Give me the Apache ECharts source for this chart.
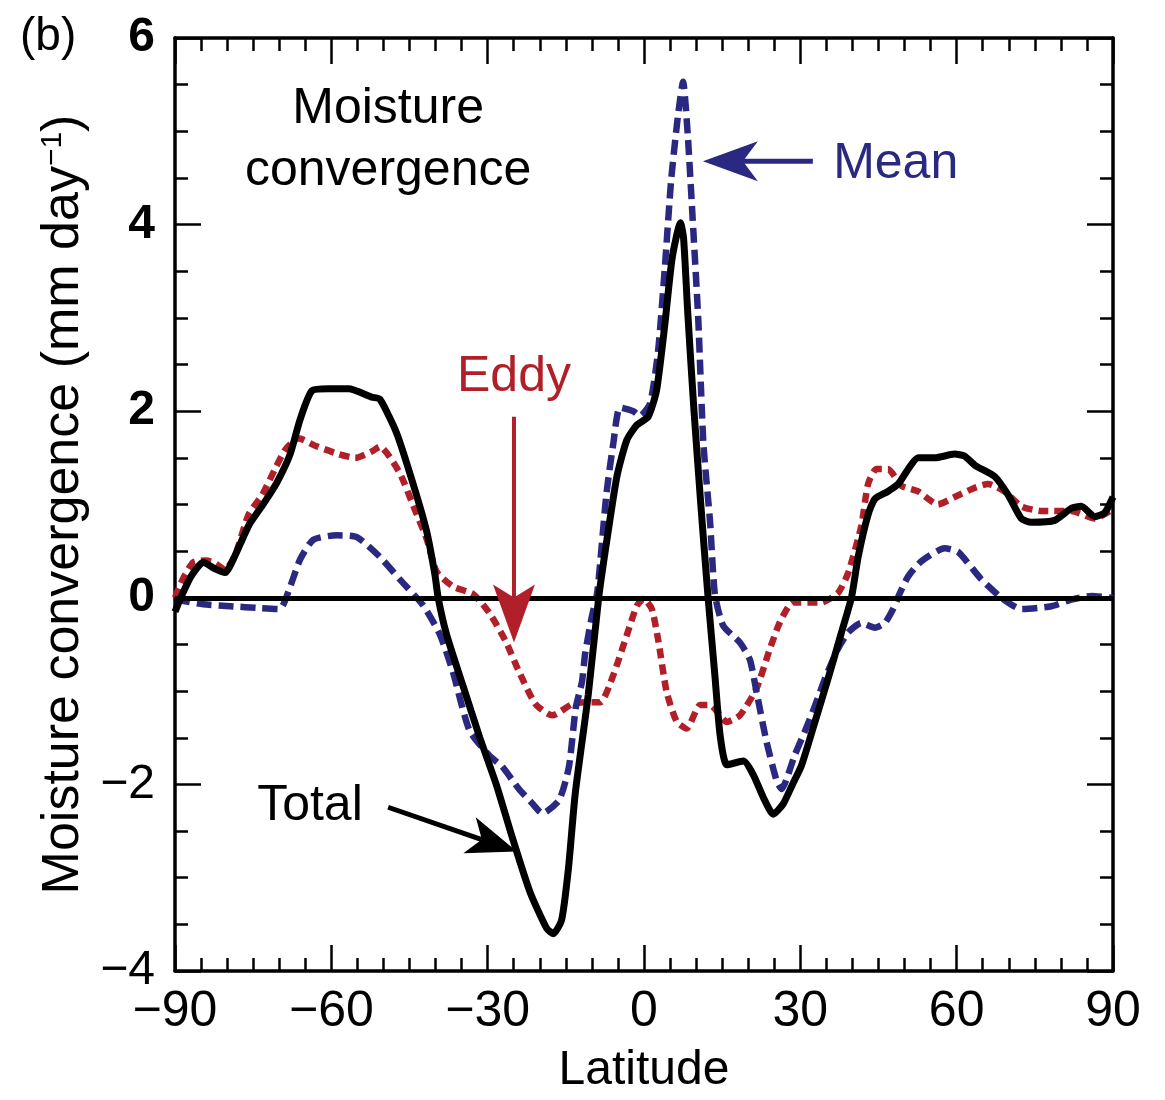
<!DOCTYPE html>
<html lang="en">
<head>
  <meta charset="UTF-8">
  <title>Moisture convergence</title>
  <style>
    html, body { margin: 0; padding: 0; background: #fff; }
  </style>
</head>
<body>
  <div id="main" style="width: 1165px;height:1100px;"></div>

  <script src="https://cdn.jsdelivr.net/npm/echarts@6/dist/echarts.min.js"></script>
  <script>
    // values: latitude (deg) and convergence (mm/day)
    const totalLat = [-90, -88.5, -86.8, -84.6, -82.3, -80.4, -78.5, -76.9, -75.6, -73, -70.5, -67.9, -66, -63.7, -60.5, -56.7, -52.2, -50.7, -47.5, -44.3, -41.7, -40.1, -39.5, -37.9, -34.7, -31.5, -28.3, -25.1, -21.9, -18.7, -17.4, -15.8, -14.5, -13.2, -10.7, -8.7, -7.2, -5.2, -3.3, -1.4, 0.8, 2.4, 4, 5.4, 7, 7.6, 8.4, 9.6, 10.9, 12.3, 13.6, 14.6, 15.9, 19.1, 21, 22.9, 24.8, 26.7, 28.5, 30.2, 32.8, 35.3, 37.9, 39.8, 41.1, 43, 44.3, 46.8, 48.8, 50.7, 52.6, 55.8, 59.6, 61.5, 63.5, 67.3, 69.9, 72.4, 74.3, 78.8, 82, 83.9, 86.5, 88.4, 90];
    const totalVal = [-0.15, 0.05, 0.24, 0.38, 0.31, 0.27, 0.45, 0.65, 0.8, 1.01, 1.23, 1.54, 1.91, 2.22, 2.24, 2.24, 2.15, 2.13, 1.77, 1.22, 0.71, 0.24, 0, -0.39, -0.95, -1.5, -2.01, -2.6, -3.15, -3.54, -3.6, -3.45, -2.9, -2.1, -1.04, 0, 0.59, 1.3, 1.69, 1.85, 1.94, 2.22, 2.93, 3.64, 4.02, 3.85, 3.05, 2.0, 1.0, 0, -0.83, -1.47, -1.79, -1.75, -1.9, -2.14, -2.32, -2.21, -2.0, -1.8, -1.33, -0.87, -0.37, 0, 0.44, 0.89, 1.06, 1.14, 1.22, 1.38, 1.5, 1.5, 1.54, 1.52, 1.42, 1.3, 1.1, 0.85, 0.81, 0.83, 0.96, 0.98, 0.87, 0.91, 1.08];

    const eddyLat = [-90, -88.5, -86.5, -84, -82.3, -80.4, -78.5, -75.9, -73.3, -70.8, -68.8, -66.3, -63.1, -58.6, -55.4, -52.2, -50.7, -46.9, -44.3, -41.7, -39.8, -36.6, -32.8, -29.7, -26.5, -24, -20.8, -17.6, -13.8, -11.3, -8.4, -5.9, -3.3, -1.4, -0.1, 1.5, 2.75, 4.35, 6.3, 8.2, 10.75, 12.7, 15.9, 18.4, 21.6, 24.2, 26.1, 28.6, 34, 37.2, 39.2, 41.7, 43, 44.6, 46.8, 49.4, 52.6, 56.4, 59.6, 63.5, 66, 69.2, 72.4, 76.3, 82, 86.5, 90];
    const eddyVal = [0, 0.2, 0.38, 0.4, 0.37, 0.3, 0.45, 0.89, 1.1, 1.38, 1.59, 1.71, 1.63, 1.54, 1.5, 1.57, 1.62, 1.34, 0.99, 0.63, 0.28, 0.12, 0.04, -0.16, -0.47, -0.79, -1.14, -1.26, -1.14, -1.12, -1.12, -0.83, -0.4, -0.09, -0.01, -0.12, -0.46, -1.01, -1.33, -1.4, -1.15, -1.15, -1.33, -1.26, -0.97, -0.54, -0.26, -0.05, -0.05, 0.05, 0.27, 0.77, 1.22, 1.38, 1.38, 1.2, 1.14, 1.0, 1.08, 1.18, 1.22, 1.14, 0.98, 0.93, 0.93, 0.85, 0.95];

    const meanLat = [-90, -88.9, -84.6, -79.4, -73.7, -69.9, -67.9, -66, -63.5, -59, -55.1, -50.7, -46.9, -42.4, -39.2, -36.7, -33.5, -29.7, -27.2, -24, -21.5, -19.5, -16.3, -14.4, -13.1, -11.9, -11.3, -10, -9, -8.4, -7.2, -5.9, -4.6, -2.05, -0.77, 1.15, 2.7, 4, 5.2, 6.5, 7.5, 8.4, 9.4, 10.4, 11.4, 12.67, 13.6, 15.2, 18.4, 20.3, 21.6, 23.5, 25.5, 26.4, 28.9, 30.8, 32.8, 34.7, 37.2, 39.2, 41.7, 44.3, 46.2, 47.8, 49.1, 50.7, 53.2, 57.7, 60.3, 64.7, 68.6, 72.4, 78.2, 82, 85.9, 90];
    const meanVal = [-0.02, -0.03, -0.07, -0.09, -0.11, -0.12, 0.12, 0.41, 0.62, 0.67, 0.65, 0.44, 0.2, -0.08, -0.39, -0.79, -1.42, -1.69, -1.81, -2.05, -2.2, -2.31, -2.17, -1.81, -1.18, -0.9, -0.6, -0.2, 0.05, 0.38, 1.12, 1.65, 2.04, 2.0, 1.95, 2.08, 2.64, 3.54, 4.47, 5.16, 5.53, 4.96, 4.0, 3.0, 1.65, 0.82, 0.04, -0.3, -0.48, -0.66, -1.01, -1.54, -1.97, -2.05, -1.69, -1.44, -1.16, -0.87, -0.55, -0.37, -0.27, -0.32, -0.27, -0.12, 0.05, 0.23, 0.39, 0.53, 0.49, 0.2, 0, -0.12, -0.09, -0.02, 0.02, 0];

    const xTicks = [-90, -60, -30, 0, 30, 60, 90];
    const yTicks = [-4, -2, 0, 2, 4, 6];

    const FONT = '"Liberation Sans", Arial, Helvetica, sans-serif';
    const NAVY = '#2b2882';
    const RED = '#b11f29';

    const zip = (a, b) => a.map((x, i) => [x, b[i]]);
    const minus = v => (v < 0 ? '\u2212' + Math.abs(v) : String(v));

    const myChart = echarts.init(document.getElementById('main'));

    const tickStyle = { color: '#000', width: 2.5 };
    const baseX = {
      type: 'value', min: xTicks[0], max: xTicks[xTicks.length - 1], interval: 30,
      splitLine: { show: false },
      axisLine: { show: true, onZero: false, lineStyle: { color: '#000', width: 3.5 } },
      axisTick: { show: true, inside: true, length: 26, lineStyle: tickStyle },
      minorTick: { show: true, splitNumber: 6, length: 13, lineStyle: tickStyle }
    };
    const baseY = {
      type: 'value', min: yTicks[0], max: yTicks[yTicks.length - 1], interval: 2,
      splitLine: { show: false },
      axisLine: { show: true, onZero: false, lineStyle: { color: '#000', width: 3.5 } },
      axisTick: { show: true, inside: true, length: 26, lineStyle: tickStyle },
      minorTick: { show: true, splitNumber: 4, length: 13, lineStyle: tickStyle }
    };

    const options = {
      animation: false,
      backgroundColor: '#fff',
      grid: { left: 175, right: 52, top: 38, bottom: 122 },
      xAxis: [
        Object.assign({}, baseX, {
          position: 'bottom',
          name: 'Latitude',
          nameLocation: 'middle',
          nameGap: 76,
          nameTextStyle: { fontFamily: FONT, fontSize: 48, color: '#000' },
          axisLabel: { fontFamily: FONT, fontSize: 50, color: '#000', margin: 16, formatter: minus }
        }),
        Object.assign({}, baseX, { position: 'top', axisLabel: { show: false } })
      ],
      yAxis: [
        Object.assign({}, baseY, {
          position: 'left',
          name: 'Moisture convergence (mm day{sup|\u22121})',
          nameLocation: 'middle',
          nameGap: 80,
          nameTextStyle: {
            fontFamily: FONT, fontSize: 52, color: '#000',
            rich: { sup: { fontFamily: FONT, fontSize: 30, color: '#000', verticalAlign: 'top' } }
          },
          axisLabel: {
            fontFamily: FONT, fontSize: 48, color: '#000', margin: 20,
            formatter: v => (v >= 0 ? '{b|' + v + '}' : minus(v)),
            rich: { b: { fontFamily: FONT, fontSize: 48, fontWeight: 'bold', color: '#000' } }
          }
        }),
        Object.assign({}, baseY, { position: 'right', axisLabel: { show: false } })
      ],
      series: [
        {
          name: 'Eddy', type: 'line', data: zip(eddyLat, eddyVal),
          showSymbol: false, smooth: 0.2,
          lineStyle: { color: RED, width: 6.5, type: [10, 6] },
          z: 3
        },
        {
          name: 'Mean', type: 'line', data: zip(meanLat, meanVal),
          showSymbol: false, smooth: 0.2,
          lineStyle: { color: NAVY, width: 6.5, type: [15, 7] },
          z: 4
        },
        {
          name: 'Total', type: 'line', data: zip(totalLat, totalVal),
          showSymbol: false, smooth: 0.2,
          lineStyle: { color: '#000', width: 7 },
          z: 5,
          markLine: {
            silent: true, symbol: 'none', label: { show: false },
            lineStyle: { color: '#000', width: 5, type: 'solid' },
            data: [{ yAxis: 0 }]
          }
        }
      ]
    };
    myChart.setOption(options);

    // annotations, anchored in data coordinates
    const px = p => myChart.convertToPixel({ gridIndex: 0 }, p);

    const arrow = (from, to, color, len, half, notch, width) => {
      const a = px(from), b = px(to);
      const dx = b[0] - a[0], dy = b[1] - a[1];
      const d = Math.hypot(dx, dy);
      const ux = dx / d, uy = dy / d, nx = -uy, ny = ux;
      const bx = b[0] - ux * len, by = b[1] - uy * len;
      const cx = b[0] - ux * (len - notch), cy = b[1] - uy * (len - notch);
      return [
        { type: 'line', shape: { x1: a[0], y1: a[1], x2: cx, y2: cy }, style: { stroke: color, lineWidth: width }, z: 10 },
        { type: 'polygon', shape: { points: [b, [bx + nx * half, by + ny * half], [cx, cy], [bx - nx * half, by - ny * half]] }, style: { fill: color }, z: 10 }
      ];
    };

    const label = (p, text, color, align) => {
      const q = px(p);
      return {
        type: 'text', x: q[0], y: q[1], z: 10,
        style: { text: text, fill: color, fontFamily: FONT, fontSize: 50, lineHeight: 62, align: align || 'center', verticalAlign: 'middle' }
      };
    };

    const graphics = [].concat(
      arrow([32.4, 4.68], [11.3, 4.68], NAVY, 55, 20, 15, 5),
      arrow([-24.95, 1.94], [-24.95, -0.48], RED, 58, 21, 13, 4),
      arrow([-49.1, -2.245], [-24.4, -2.72], '#000', 50, 19, 13, 5),
      [
        label([36.3, 4.65], 'Mean', NAVY, 'left'),
        label([-24.95, 2.36], 'Eddy', RED),
        label([-64.1, -2.23], 'Total', '#000'),
        label([-49.1, 4.9], 'Moisture\nconvergence', '#000'),
        { type: 'text', left: 20, top: 14, style: { text: '(b)', fill: '#000', fontFamily: FONT, fontSize: 46 } }
      ]
    );
    myChart.setOption({ graphic: graphics });
  </script>
</body>
</html>
